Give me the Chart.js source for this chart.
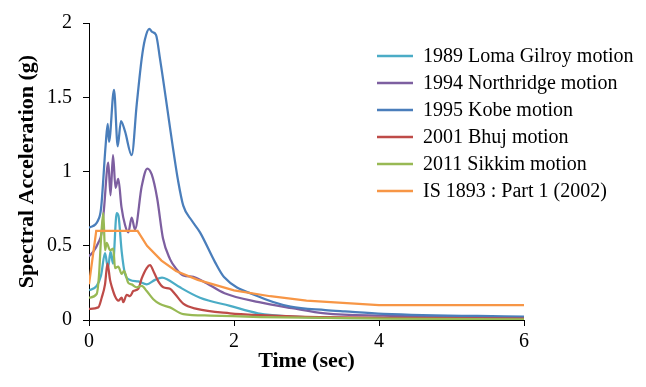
<!DOCTYPE html>
<html>
<head>
<meta charset="utf-8">
<script src="https://cdn.jsdelivr.net/npm/chart.js@4.4.1/dist/chart.umd.min.js"></script>
<style>
html,body{margin:0;padding:0;background:#fff;}
#wrap{width:646px;height:387px;position:relative;}
</style>
</head>
<body>
<div id="wrap"><canvas id="c" width="646" height="387"></canvas></div>
<script>
// ---- Data ----
const seriesNames = ["1989 Loma Gilroy motion","1994 Northridge motion","1995 Kobe motion","2001 Bhuj motion","2011 Sikkim motion","IS 1893 : Part 1 (2002)"];

const lomaT = [0,0.106,0.166,0.221,0.262,0.297,0.331,0.382,0.407,0.451,0.497,0.566,0.68,0.796,0.91,1.007,1.076,1.255,1.531,1.945,2.33,2.8,4.06,6];
const lomaV = [0.2,0.23,0.30,0.45,0.35,0.46,0.38,0.72,0.70,0.46,0.31,0.27,0.26,0.24,0.27,0.285,0.275,0.22,0.15,0.095,0.045,0.023,0.012,0.008];

const northT = [0,0.06,0.128,0.175,0.207,0.266,0.297,0.331,0.366,0.404,0.448,0.497,0.542,0.589,0.634,0.727,0.804,0.865,0.94,1.02,1.117,1.21,1.30,1.44,1.577,1.87,2.345,2.8,3.255,4.055,6];
const northV = [0.43,0.46,0.52,0.59,0.75,1.06,0.84,1.11,0.89,0.95,0.76,0.64,0.59,0.69,0.61,0.90,1.02,0.98,0.82,0.55,0.41,0.34,0.30,0.29,0.26,0.18,0.12,0.08,0.045,0.03,0.018];

const kobeT = [0,0.124,0.166,0.23,0.258,0.276,0.345,0.396,0.441,0.497,0.589,0.658,0.727,0.772,0.832,0.87,0.924,0.979,1.17,1.228,1.30,1.417,1.531,1.738,1.862,2.33,2.78,3.26,3.53,4.06,6];
const kobeV = [0.62,0.67,0.75,1.18,1.32,1.2,1.55,1.17,1.34,1.27,1.11,1.45,1.76,1.89,1.96,1.94,1.92,1.76,1.12,0.94,0.77,0.67,0.59,0.39,0.29,0.16,0.09,0.067,0.058,0.042,0.022];

const bhujT = [0,0.128,0.175,0.221,0.255,0.29,0.317,0.359,0.404,0.451,0.473,0.52,0.566,0.611,0.68,0.727,0.796,0.841,0.897,0.956,1.025,1.117,1.186,1.30,1.486,1.945,2.36,2.91,4.06,6];
const bhujV = [0.075,0.085,0.15,0.24,0.38,0.27,0.22,0.16,0.13,0.15,0.12,0.17,0.16,0.195,0.21,0.28,0.35,0.37,0.32,0.26,0.22,0.21,0.175,0.11,0.075,0.045,0.032,0.022,0.015,0.01];

const sikkimT = [0,0.106,0.138,0.166,0.197,0.221,0.244,0.29,0.335,0.359,0.404,0.451,0.483,0.542,0.589,0.658,0.727,0.796,0.887,0.979,1.117,1.30,1.67,2.36,4.06,6];
const sikkimV = [0.15,0.175,0.3,0.55,0.72,0.47,0.52,0.47,0.48,0.35,0.36,0.31,0.33,0.25,0.24,0.22,0.23,0.195,0.14,0.107,0.085,0.04,0.03,0.02,0.01,0.005];

const isT = [0,0.1,0.67,0.8,1.0,1.2,1.5,2.0,2.5,3.0,3.5,4.0,6];
const isV = [0.24,0.6,0.6,0.5,0.4,0.33,0.27,0.2,0.16,0.13,0.115,0.1,0.1];

const xTicks = [0,2,4,6];
const yTicks = [0,0.5,1,1.5,2];
const xTitle = "Time (sec)";
const yTitle = "Spectral Acceleration (g)";

const colors = ["#4BACC6","#7D5FA0","#4A7EBB","#BE4B48","#98B954","#F79646"];

function pts(t, v){ return t.map((x,i)=>({x:x, y:v[i]})); }
const allT = [lomaT,northT,kobeT,bhujT,sikkimT,isT];
const allV = [lomaV,northV,kobeV,bhujV,sikkimV,isV];

const datasets = seriesNames.map((name,i)=>({
  label: name,
  data: pts(allT[i], allV[i]),
  borderColor: colors[i],
  backgroundColor: colors[i],
  borderWidth: 2.25,
  pointRadius: 0,
  cubicInterpolationMode: i === 5 ? 'default' : 'monotone',
  tension: i === 5 ? 0 : 0.4,
  fill: false,
  order: seriesNames.length - 1 - i
}));

const FONT = "'Liberation Serif','Times New Roman',serif";

const legendPlugin = {
  id: 'customLegend',
  afterDraw(chart){
    const ctx = chart.ctx;
    ctx.save();
    ctx.font = "20px " + FONT;
    ctx.textBaseline = 'middle';
    ctx.textAlign = 'left';
    seriesNames.forEach((name,i)=>{
      const y = 56 + i*27;
      ctx.strokeStyle = colors[i];
      ctx.lineWidth = 2.5;
      ctx.beginPath();
      ctx.moveTo(377, y);
      ctx.lineTo(413, y);
      ctx.stroke();
      ctx.fillStyle = '#000';
      ctx.fillText(name, 423, y+1);
    });
    ctx.restore();
  }
};

new Chart(document.getElementById('c'), {
  type: 'line',
  data: { datasets },
  options: {
    responsive: false,
    animation: false,
    devicePixelRatio: 1,
    layout: { padding: { top: 16.5, right: 122, bottom: 0, left: 0 } },
    plugins: { legend: { display: false }, tooltip: { enabled: false } },
    scales: {
      x: {
        type: 'linear',
        min: 0, max: 6,
        afterBuildTicks(s){ s.ticks = xTicks.map(v=>({value:v})); },
        afterFit(s){ s.height = 67; },
        ticks: { color: '#000', font: { family: FONT, size: 20 }, padding: 4, maxRotation: 0, callback: v => String(v) },
        grid: { display: true, drawOnChartArea: false, drawTicks: true, tickLength: 6, color: '#000', lineWidth: 1 },
        border: { display: true, color: '#000', width: 1 },
        title: { display: true, text: xTitle, color: '#000', font: { family: FONT, size: 22, weight: 'bold' }, padding: { top: 0, bottom: 12 } }
      },
      y: {
        type: 'linear',
        min: 0, max: 2,
        afterBuildTicks(s){ s.ticks = yTicks.map(v=>({value:v})); },
        afterFit(s){ s.width = 89; },
        ticks: { color: '#000', font: { family: FONT, size: 20 }, padding: 11, callback: v => String(v) },
        grid: { display: true, drawOnChartArea: false, drawTicks: true, tickLength: 6, color: '#000', lineWidth: 1 },
        border: { display: true, color: '#000', width: 1 },
        title: { display: true, text: yTitle, color: '#000', font: { family: FONT, size: 22, weight: 'bold' }, padding: { top: 14, bottom: 0 } }
      }
    }
  },
  plugins: [legendPlugin]
});
</script>
</body>
</html>
